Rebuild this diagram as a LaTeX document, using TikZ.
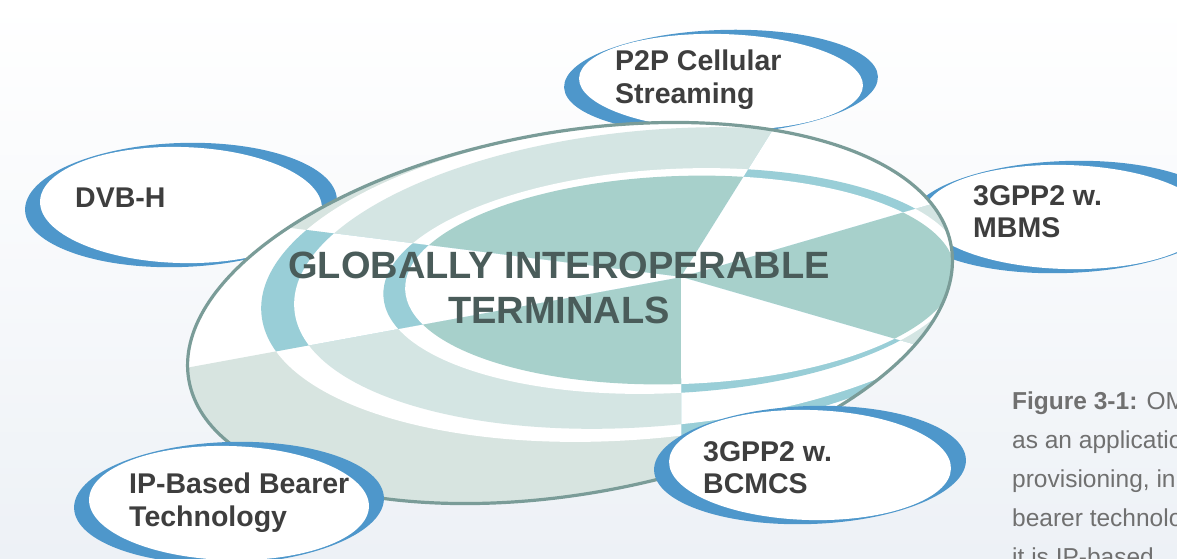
\documentclass[tikz,border=0pt]{standalone}
\usepackage{fontspec}
\setmainfont{Liberation Sans}
\newfontfamily\titlefont[FakeStretch=1.0]{Liberation Sans}
\usetikzlibrary{shapes.geometric}
\definecolor{bubbleblue}{HTML}{4E97CB}
\definecolor{ringgray}{HTML}{D7E4E0}
\definecolor{bandgray}{HTML}{D4E5E3}
\definecolor{coreteal}{HTML}{A7D0CB}
\definecolor{ringblue}{HTML}{99CED7}
\definecolor{rimcol}{HTML}{7A9C98}
\definecolor{titlecol}{HTML}{4A5C5A}
\definecolor{labcol}{HTML}{3E3E3E}
\definecolor{capcol}{HTML}{707070}
\definecolor{bgbot}{HTML}{EDF1F6}
\begin{document}
\begin{tikzpicture}[x=1pt,y=-1pt,
  blueell/.style={ellipse, fill=bubbleblue, inner sep=0pt, draw=none, rotate=2},
  whiteell/.style={ellipse, fill=white, inner sep=0pt, draw=none, rotate=-1.5},
  lab/.style={anchor=north west, inner sep=0pt, align=left, text=labcol,
    font=\fontsize{28.5}{32.5}\selectfont\bfseries},
  titletext/.style={anchor=north, inner sep=0pt, align=center, text=titlecol,
    font=\titlefont\bfseries\fontsize{38}{44.5}\selectfont},
  captext/.style={anchor=north west, inner sep=0pt, align=left, text=capcol,
    font=\fontsize{24.5}{39}\selectfont}
]
\useasboundingbox (0,0) rectangle (1177,558);
\clip (0,0) rectangle (1177,558);
\shade[top color=white, bottom color=bgbot, middle color=white!55!bgbot] (0,0) rectangle (1177,558);

% satellite bubbles lying under the central ellipse
\node[blueell, minimum width=314pt, minimum height=104pt] (p2pB) at (721,82) {};
\node[whiteell, minimum width=284pt, minimum height=96pt] (p2p) at (721,82) {};
\node[blueell, minimum width=312pt, minimum height=124pt] (dvbB) at (181,205) {};
\node[whiteell, minimum width=282pt, minimum height=116pt] (dvb) at (181,205) {};
\node[blueell, minimum width=314pt, minimum height=112pt] (mbmsB) at (1066,217) {};
\node[whiteell, minimum width=284pt, minimum height=104pt] (mbms) at (1066,217) {};

% central ellipse
\begin{scope}
  \clip[rotate around={10:(570,313)}] (570,313) ellipse [x radius=387pt, y radius=181pt];
  \fill[white] (0,0) rectangle (1177,558);
  % grey-type sectors
  \begin{scope}
    \clip (681,277) -- (682,700) -- (-54,700) -- (-54,412) -- cycle
          (681,277) -- (-99,179) -- (-99,-11) -- (861,-11) -- cycle
          (681,277) -- (1161,137) -- (1161,416) -- cycle;
    \fill[ringgray, rotate around={10:(570,313)}] (570,313) ellipse [x radius=387pt, y radius=181pt];
    \fill[white, rotate around={5:(640,281)}] (640,281) ellipse [x radius=380pt, y radius=158pt];
    \fill[bandgray, rotate around={5:(655,278)}] (655,278) ellipse [x radius=362pt, y radius=148pt];
    \fill[white, rotate around={3:(673,281)}] (673,281) ellipse [x radius=290pt, y radius=112pt];
    \fill[coreteal, rotate around={2:(680,280)}] (680,280) ellipse [x radius=275pt, y radius=104pt];
  \end{scope}
  % white-type sectors
  \begin{scope}
    \clip (681,277) -- (-54,412) -- (-99,179) -- cycle
          (681,277) -- (861,-11) -- (1161,-11) -- (1161,137) -- cycle
          (681,277) -- (1161,416) -- (1161,700) -- (682,700) -- cycle;
    \fill[ringblue, rotate around={5:(640,281)}] (640,281) ellipse [x radius=380pt, y radius=158pt];
    \fill[white, rotate around={5:(655,278)}] (655,278) ellipse [x radius=362pt, y radius=148pt];
    \fill[ringblue, rotate around={3:(673,281)}] (673,281) ellipse [x radius=290pt, y radius=112pt];
    \fill[white, rotate around={2:(680,280)}] (680,280) ellipse [x radius=275pt, y radius=104pt];
  \end{scope}
\end{scope}
\draw[rimcol, line width=3.2pt, rotate around={10:(570,313)}] (570,313) ellipse [x radius=387pt, y radius=181pt];

\node[titletext] (title) at (559,252) {GLOBALLY INTEROPERABLE\\TERMINALS};

% satellite bubbles lying over the central ellipse
\node[blueell, minimum width=312pt, minimum height=118pt] (bcmcsB) at (810,465) {};
\node[whiteell, minimum width=282pt, minimum height=110pt] (bcmcs) at (810,465) {};
\node[blueell, minimum width=310pt, minimum height=122pt] (ipB) at (229,503) {};
\node[whiteell, minimum width=280pt, minimum height=114pt] (ip) at (229,503) {};

% labels
\node[lab] (p2pT) at (615,50) {P2P Cellular\\Streaming};
\node[lab] (dvbT) at (75,188) {DVB-H};
\node[lab] (mbmsT) at (973,185) {3GPP2 w.\\MBMS};
\node[lab] (bcmcsT) at (703,441) {3GPP2 w.\\BCMCS};
\node[lab] (ipT) at (129,473) {IP-Based Bearer\\Technology};

% caption
\node[captext] (cap) at (1012,392) {\textbf{Figure 3-1:} OM\\as an applicatio\\provisioning, in\\bearer technolo\\it is IP-based};
\end{tikzpicture}
\end{document}
